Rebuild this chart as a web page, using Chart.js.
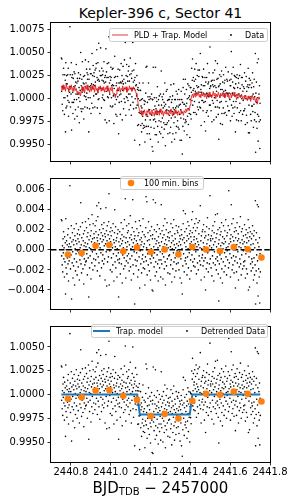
<!DOCTYPE html>
<html>
<head>
<meta charset="utf-8">
<script src="https://cdn.jsdelivr.net/npm/chart.js@4.4.1/dist/chart.umd.min.js"></script>
<style>
  body { margin: 0; background: #fff; }
  #wrap { position: relative; width: 294px; height: 503px; font-family: "DejaVu Sans", sans-serif; color: #000; }
  canvas { position: absolute; left: 0; }
  #title { position: absolute; left: 51px; width: 219px; top: 5px; text-align: center; font-size: 14px; line-height: 16px; }
  #xlabel { position: absolute; left: 51px; width: 219px; top: 479px; text-align: center; font-size: 15px; line-height: 18px; white-space: nowrap; }
  #xlabel sub { font-size: 10px; vertical-align: baseline; position: relative; top: 2px; }
</style>
</head>
<body>
<div id="wrap">
  <div id="title">Kepler-396 c, Sector 41</div>
  <canvas id="c1" width="294" height="170" style="top:0px"></canvas>
  <canvas id="c2" width="294" height="148" style="top:170px"></canvas>
  <canvas id="c3" width="294" height="185" style="top:318px"></canvas>
  <div id="xlabel">BJD<sub>TDB</sub> &minus; 2457000</div>
</div>
<script>
// === DATA ===
// 2-min cadence light curve (days, BJD_TDB - 2457000)
const t0 = 2440.752;
const cadence = 0.00139;

// residuals (data - model), units of 1e-4
const residuals = [
  30, -6, 29, -15, 4, -22, 11, -3, 18, -9, 2, -27, 13, -12, 7, -44, 31, -18, 0, 9, -24, 5, -8, 15, -14, 21, -31, 3, -11, 6,
  -7, 64, 12, -19, 3, -5, 24, -49, 8, -13, 17, -2, -28, 10, -16, 5, 21, -9, -35, 14, 1, -21, 9, -4, 26, -12, 6, -25, 16, -1,
  11, -17, 20, -3, 8, -30, 15, -10, 2, 23, 47, -14, 5, -23, 12, -6, 27, -1, -19, 9, 16, -34, 4, -9, 19, -15, 7, 28, -12, 3,
  -11, 22, -4, 13, -25, 6, 17, -8, 31, -47, 10, 2, -18, 25, -6, 14, 1, -29, 19, 8, -13, 35, -2, 11, -20, 26, 5, -9, 16, 12,
  7, -16, 24, 3, -10, 18, 29, -4, 44, 12, -21, 9, 33, -7, 15, 47, -13, 6, 20, -26, 2, 11, 41, -3, 17, -18, 25, 8, -11, 14,
  -5, 21, 10, -14, 27, 4, -9, 16, -30, 13, 6, 42, -2, 19, -36, 9, 24, -12, 3, 15, -7, 28, 56, -35, 11, -1, 18, -20, 8, 22,
  14, -8, 5, -22, 19, 2, -15, 26, -4, 10, -31, 7, 17, 40, -12, 3, 23, -18, 9, -6, 12, -27, 1, 16, -10, 20, -3, -47, 8, -13,
  -9, 18, 4, -24, 11, -2, 27, -14, 6, 15, -33, 9, -5, 21, 2, -19, 13, -8, 30, -1, -16, 51, 7, -28, 12, -11, 24, 3, -6, 17,
  8, -13, 19, -4, 26, -21, 5, 12, -9, 34, -17, 1, 15, -30, 10, -6, 22, 3, 50, -15, 7, -24, 18, -2, 11, -54, 14, -10, 28, 4,
  -16, 9, -3, 21, -11, 6, -27, 14, 2, -20, 17, -7, 29, -38, 10, -1, 24, -14, 5, 12, -23, 8, -9, 18, -5, 31, -18, 3, -12, 15,
  6, -19, -35, 13, -7, 22, 53, -11, 2, 48, -25, 9, -4, 17, -15, 28, -2, 10, -21, 5, 19, -9, -30, 14, -13, 1, 23, -6, -40, 11,
  15, -41, 50, -8, 3, -17, 20, -3, 11, -26, 47, -12, 6, 18, -22, 9, -5, 25, -14, 2, -31, 13, 7, -10, 21, -18, 4, -2, 16, -27,
  -10, 45, 8, -14, 19, -4, 12, -29, 3, 24, -7, 15, -19, 6, 31, -12, -35, 10, -1, 20, -16, 5, 27, -9, 13, -23, 2, 17, -6, 9,
  12, -5, -24, 18, 3, -15, 26, -10, 7, -32, 14, 1, 22, -19, 9, -3, 30, -12, 5, -27, 16, -8, 11, 2, -21, 24, -14, 6, -1, 19,
  -6, 17, -13, 4, 23, -20, 8, -2, 14, -28, 11, 5, -9, 20, -33, 15, 1, -44, 10, -16, 26, 39, -4, 12, -22, 7, 18, -11, 36, -8,
  3, -14, 21, 9, -25, 14, -7, 28, 1, -18, 11, 24, -3, 16, -29, 6, 19, -10, 13, -21, 8, 30, -5, 17, 38, -12, 4, 22, -16, 10,
  13, -9, 26, -17, 6, 19, -2, 31, -24, 11, 3, 22, -13, 8, 27, -20, 5, 16, -6, 29, -11, 2, 44, -15, 9, -30, 14, 1, -8, 18,
  -5, 20, -16, 7, 25, -11, 3, -27, 12, 18, -8, -40, 14, 1, -19, 23, 6, -13, 32, -3, 10, -22, 15, -1, 21, -14, 4, 54, -9, 11,
  9, -18, 14, 2, -26, 19, -6, 11, 24, -13, 5, -31, 17, -2, 28, 8, -15, 35, -9, 12, -20, 3, 16, -7, 36, -11, 20, -24, 6, -51,
  10, -14, 22, -5, 15, -28, 4, 18, -9, 27, -19, 7, -33, 13, 1, -12, 24, 6, -22, 11, -3, 19, -16, 8, 30, -7, 2, -25, 14, -1,
  17, -10, 3, 24, -18, 59, 6, -13, 20, -4, 11, -27, 8, 15, 45, -8, 26, -20, 1, 13, -15, 31, -6, 9, -23, 18, 4, -11, 22, -38,
  12, -7, 19, -22, 5, 27, -13, 9, -2, 16, -30, 11, 3, -17, 23, -9, 7, 33, -14, 2, -25, 18, -5, 10, 21, -19, 6, -1, 14, -12,
  -16, 8, 25, -11, 3, -28, 15, -4, 20, -19, 7, 12, -24, 1, 17, 30, -40, 9, -7, 22, -37, 13, -2, 18, -14, 5, -21, 11, -9, 16,
  -12, 24, -18, 6, -30, 14, -8, 19, -25, 2, -15, 49, -54, 10, -21, 17, -5, -33, 45, -11, 7, -46, 43, -19, 3, -27, 12, -53, -4, -22,
];

// PLD + trapezoid model, every 3rd cadence, units of 1e-4 around 1.0
const pldModel = [
  14, 9, 15, 10, 13, 8, 16, 11, 12, 7, 14, 10, 15, 9, 12, 8, 13, 9, 11, 6, 8, 4, 7, 3, 9,
  13, 8, 12, 6, 14, 10, 15, 9, 11, 7, 13, 8, 14, 10, 12, 7, 15, 9, 11, 6, 13, 10, 14, 8, 12,
  9, 13, 7, 12, 10, 14, 8, 11, 6, 12, 9, 13, 7, 4, 6, 1, 5, 8, 12, 9, 13, 7, 11, 10, 14,
  8, 12, 10, 13, 7, 11, 9, 14, 10, 12, 8, 11, 13, 9, 10, 6, 4,
  -2, -8, -12, -15,
  -13, -18, -14, -17, -12, -16, -19, -13, -15, -11, -17, -14, -18, -12, -16, -15, -19, -13, -17, -12,
  -16, -14, -18, -11, -15, -17, -13, -19, -14, -16, -12, -17, -15, -18, -13, -16, -11, -15, -19, -14,
  -17, -12, -16, -14, -18, -13, -15, -17, -12, -16, -14, -18, -13, -15, -11, -14, -12, -10, -13,
  -7, -1, 3,
  5, 1, 6, 2, 7, 3, 4, 8, 2, 5, 1, 6, 3, 7, 2, 5, 4, 0, 6, 3,
  7, 2, 5, 1, 4, 8, 3, 6, 0, 5, 2, 7, 4, 1, 6, 3, 5, 2, 6, 1,
  4, 7, 2, 5, 0, 3, 6, 1, 5, 3, 7, 2, 4, -1, 3, 6, 2, 4, 1, 5,
  2, -1, 3, 0, 4, 1, -2, 3, 0, 2, -3, 1, 4, -1, 2, 0, -4, 1, -6, 0, 2, -1,
];

// trapezoid transit model corners
const trapTimes = [2440.752, 2441.133, 2441.146, 2441.397, 2441.410, 2441.751];
const trapFlux = [1.0, 1.0, 0.9979, 0.9979, 1.0, 1.0];

// 100 minute bins
const binTimes = [2440.785, 2440.854, 2440.924, 2440.993, 2441.063, 2441.132, 2441.201, 2441.271,
  2441.340, 2441.410, 2441.479, 2441.549, 2441.618, 2441.688, 2441.757];
const binResid = [-0.00046, -0.00031, 0.0004, 0.00049, -0.00015, 0.00025, -0.00022, 0.00003,
  -0.00046, 0.00028, 0.00003, -0.00012, 0.00028, 0.00006, -0.00077];
const binDetrended = [0.99956, 0.9997, 1.00041, 1.00047, 0.99986, 0.99943, 0.99774, 0.99794,
  0.99747, 0.99932, 1.00007, 0.99997, 1.0003, 1.00007, 0.99926];

// axes
const xMin = 2440.70, xMax = 2441.80;
const xTicks = [2440.8, 2441.0, 2441.2, 2441.4, 2441.6, 2441.8];
const yTicksTop = [0.995, 0.9975, 1.0, 1.0025, 1.005, 1.0075];
const yTicksMid = [-0.004, -0.002, 0.0, 0.002, 0.004, 0.006];
const yTicksBot = [0.995, 0.9975, 1.0, 1.0025, 1.005];

// === HELPERS ===
function trapAt(t) {
  for (let k = 1; k < trapTimes.length; k++) {
    if (t <= trapTimes[k]) {
      const f = (t - trapTimes[k - 1]) / (trapTimes[k] - trapTimes[k - 1]);
      return trapFlux[k - 1] + (trapFlux[k] - trapFlux[k - 1]) * f;
    }
  }
  return trapFlux[trapFlux.length - 1];
}

const times = residuals.map((_, i) => t0 + i * cadence);
const rawPts = times.map((t, i) => ({ x: t, y: 1 + (pldModel[Math.floor(i / 3)] + residuals[i]) * 1e-4 }));
const pldPts = pldModel.map((v, j) => ({ x: t0 + j * 3 * cadence, y: 1 + v * 1e-4 }));
const residPts = times.map((t, i) => ({ x: t, y: residuals[i] * 1e-4 }));
const detrPts = times.map((t, i) => ({ x: t, y: trapAt(t) + residuals[i] * 1e-4 }));
const trapPts = trapTimes.map((t, k) => ({ x: t, y: trapFlux[k] }));
const binResidPts = binTimes.map((t, k) => ({ x: t, y: binResid[k] }));
const binDetrPts = binTimes.map((t, k) => ({ x: t, y: binDetrended[k] }));

const tickFont = { family: "DejaVu Sans", size: 10 };
const orange = "#ff7f0e";
const blue = "#1f77b4";
const red = "rgba(225,25,25,0.85)";
const dotR = 0.8;

// legend boxes drawn inside the axes (canvas coords)
const legends = {
  c1: { x: 109, y: 28, w: 158, h: 13, items: [
    { kind: "line", color: red, x0: 112, x1: 128, lw: 1, text: "PLD + Trap. Model", tx: 134 },
    { kind: "dot", color: "#000", x: 231, r: 0.9, text: "Data", tx: 245 },
  ] },
  c2: { x: 120, y: 6, w: 83, h: 13, items: [
    { kind: "dot", color: orange, x: 131, r: 3.3, text: "100 min. bins", tx: 144 },
  ] },
  c3: { x: 91, y: 6, w: 176, h: 13, items: [
    { kind: "line", color: blue, x0: 93, x1: 110, lw: 2, text: "Trap. model", tx: 116 },
    { kind: "dot", color: "#000", x: 187, r: 0.9, text: "Detrended Data", tx: 201 },
  ] },
};

const frame = {
  id: "frame",
  afterDatasetsDraw(chart) {
    const a = chart.chartArea;
    const ctx = chart.ctx;
    ctx.save();
    ctx.strokeStyle = "#000";
    ctx.lineWidth = 1;
    ctx.strokeRect(a.left - 0.5, a.top - 0.5, a.right - a.left + 1, a.bottom - a.top + 1);
    ctx.restore();
  },
};

const boxLegend = {
  id: "boxLegend",
  afterDraw(chart) {
    const o = legends[chart.canvas.id];
    if (!o) return;
    const ctx = chart.ctx;
    ctx.save();
    ctx.fillStyle = "rgba(255,255,255,0.8)";
    ctx.strokeStyle = "#cccccc";
    ctx.lineWidth = 1;
    ctx.beginPath();
    ctx.roundRect(o.x + 0.5, o.y + 0.5, o.w, o.h, 2);
    ctx.fill();
    ctx.stroke();
    const cy = o.y + 0.5 + o.h / 2;
    ctx.font = "8px 'DejaVu Sans'";
    ctx.textBaseline = "middle";
    o.items.forEach((it) => {
      if (it.kind === "line") {
        ctx.strokeStyle = it.color;
        ctx.lineWidth = it.lw;
        ctx.beginPath();
        ctx.moveTo(it.x0, cy);
        ctx.lineTo(it.x1, cy);
        ctx.stroke();
      } else {
        ctx.fillStyle = it.color;
        ctx.beginPath();
        ctx.arc(it.x, cy, it.r, 0, Math.PI * 2);
        ctx.fill();
      }
      ctx.fillStyle = "#000";
      ctx.fillText(it.text, it.tx, cy + 0.5);
    });
    ctx.restore();
  },
};

// === CHART CREATION ===
function panel(id, cfg) {
  return new Chart(document.getElementById(id), {
    type: "scatter",
    data: { datasets: cfg.datasets },
    options: {
      responsive: false,
      animation: false,
      events: [],
      layout: { padding: { top: cfg.padTop, right: 24, left: 0, bottom: 0 } },
      plugins: { legend: { display: false }, tooltip: { enabled: false } },
      scales: {
        x: {
          type: "linear",
          min: xMin,
          max: xMax,
          afterBuildTicks: (s) => { s.ticks = xTicks.map((v) => ({ value: v })); },
          afterFit: (s) => { s.height = cfg.xHeight; },
          border: { display: false },
          grid: { drawOnChartArea: false, drawTicks: true, tickLength: 3.5, color: "#000", lineWidth: 0.8 },
          ticks: { display: cfg.xLabels, color: "#000", font: tickFont, padding: 1, maxRotation: 0, autoSkip: false,
            callback: (v) => v.toFixed(1) },
        },
        y: {
          type: "linear",
          min: cfg.yMin,
          max: cfg.yMax,
          afterBuildTicks: (s) => { s.ticks = cfg.yTicks.map((v) => ({ value: v })); },
          afterFit: (s) => { s.width = 51; },
          border: { display: false },
          grid: { drawOnChartArea: false, drawTicks: true, tickLength: 3.5, color: "#000", lineWidth: 0.8 },
          ticks: { color: "#000", font: tickFont, padding: 3, callback: cfg.yFmt },
        },
      },
    },
    plugins: [frame, boxLegend],
  });
}

const fmt4 = (v) => v.toFixed(4);
const fmtResid = (v) => (v < -1e-9 ? "\u2212" : "") + Math.abs(v).toFixed(3);

panel("c1", {
  padTop: 23, xHeight: 6, xLabels: false,
  yMin: 0.99325, yMax: 1.0082, yTicks: yTicksTop, yFmt: fmt4,
  datasets: [
    { label: "PLD + Trap. Model", data: pldPts, showLine: true, borderColor: red, borderWidth: 1, pointRadius: 0, tension: 0 },
    { label: "Data", data: rawPts, pointRadius: dotR, backgroundColor: "#000", borderWidth: 0 },
  ],
});

panel("c2", {
  padTop: 2, xHeight: 6, xLabels: false,
  yMin: -0.0059, yMax: 0.00707, yTicks: yTicksMid, yFmt: fmtResid,
  datasets: [
    { label: "100 min. bins", data: binResidPts, pointRadius: 3.3, backgroundColor: orange, borderWidth: 0 },
    { label: "zero", data: [{ x: xMin, y: 0 }, { x: xMax, y: 0 }], showLine: true, borderColor: "#000",
      borderWidth: 1.5, borderDash: [5.5, 2.4], pointRadius: 0 },
    { label: "Residuals", data: residPts, pointRadius: dotR, backgroundColor: "#000", borderWidth: 0 },
  ],
});

panel("c3", {
  padTop: 2, xHeight: 41, xLabels: true,
  yMin: 0.9929, yMax: 1.0071, yTicks: yTicksBot, yFmt: fmt4,
  datasets: [
    { label: "Bins", data: binDetrPts, pointRadius: 3.3, backgroundColor: orange, borderWidth: 0 },
    { label: "Trap. model", data: trapPts, showLine: true, borderColor: blue, borderWidth: 2, pointRadius: 0, tension: 0 },
    { label: "Detrended Data", data: detrPts, pointRadius: dotR, backgroundColor: "#000", borderWidth: 0 },
  ],
});
</script>
</body>
</html>
